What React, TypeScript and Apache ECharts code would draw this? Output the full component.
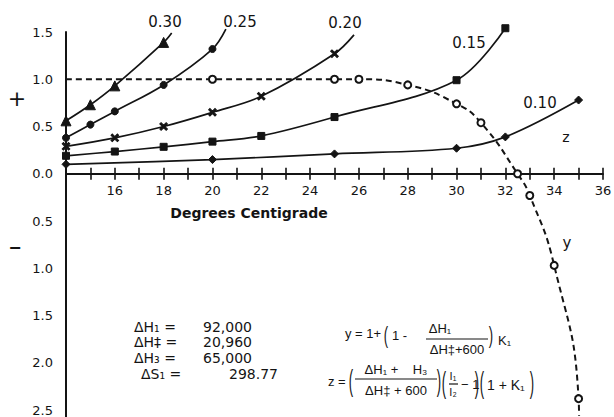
import React, { useEffect, useRef } from 'react';
import * as echarts from 'echarts';

// ---- data ----
const temps030 = [14, 15, 16, 18];
const vals030 = [0.56, 0.73, 0.93, 1.39];
const tail030 = [18.33, 1.49];

const temps025 = [14, 15, 16, 18, 20];
const vals025 = [0.38, 0.52, 0.66, 0.94, 1.32];
const tail025 = [20.55, 1.53];

const temps020 = [14, 16, 18, 20, 22, 25];
const vals020 = [0.29, 0.38, 0.5, 0.65, 0.82, 1.27];
const tail020 = [25.8, 1.47];

const temps015 = [14, 16, 18, 20, 22, 25, 30, 32];
const vals015 = [0.19, 0.235, 0.285, 0.34, 0.4, 0.6, 0.99, 1.54];

const temps010 = [14, 20, 25, 30, 32, 35];
const vals010 = [0.1, 0.15, 0.21, 0.27, 0.39, 0.78];

const tempsY = [20, 25, 26, 28, 30, 31, 32.5, 33, 34, 35];
const valsY = [1.0, 1.0, 1.0, 0.94, 0.74, 0.54, 0.0, -0.23, -0.97, -2.38];
const headY = [14, 1.0];
const tailY = [35.02, -2.56];

const curveNames = ['0.30', '0.25', '0.20', '0.15', '0.10'];
const xLabelValues = [16, 18, 20, 22, 24, 26, 28, 30, 32, 34, 36];

const constNames = ['ΔH₁ =', 'ΔH‡ =', 'ΔH₃ =', 'ΔS₁ ='];
const constValues = ['92,000', '20,960', '65,000', '298.77'];

const X_MIN = 14;
const X_MAX = 36;
const Y_MIN = -2.5;
const Y_MAX = 1.5;

const INK = '#141414';
const FONT = 'DejaVu Sans';
const FFONT = 'Liberation Sans';

const GRID = { left: 66, right: 11, top: 32, bottom: 7 };
const W = 614;
const H = 417;

function pts(xs: number[], ys: number[], head?: number[], tail?: number[]) {
  const d: any[] = xs.map((x, i) => [x, ys[i]]);
  if (head) d.unshift({ value: head, symbol: 'none' });
  if (tail) d.push({ value: tail, symbol: 'none' });
  return d;
}

function lineSeries(name: string, data: any[], symbol: string, size: number, extra: any = {}) {
  return {
    name,
    type: 'line',
    xAxisIndex: 0,
    yAxisIndex: 0,
    data,
    smooth: 0.35,
    clip: false,
    symbol,
    symbolSize: size,
    showSymbol: true,
    showAllSymbol: true,
    lineStyle: { color: INK, width: 1.7 },
    itemStyle: { color: INK, borderColor: INK, borderWidth: 1 },
    emphasis: { disabled: true },
    z: 3,
    ...extra,
  };
}

function txt(text: string, x: number, y: number, size = 13, align = 'left', weight: any = 'normal', family = FONT) {
  return {
    type: 'text',
    x,
    y,
    style: {
      text,
      fill: INK,
      font: `${weight} ${size}px "${family}"`,
      align,
      verticalAlign: 'middle',
    },
    z: 10,
  };
}

function paren(ch: string, x: number, y: number, stretch: number) {
  return {
    type: 'text',
    x,
    y,
    scaleY: stretch,
    style: {
      text: ch,
      fill: INK,
      font: `normal 13px "${FFONT}"`,
      align: 'center',
      verticalAlign: 'middle',
    },
    z: 10,
  };
}

function bar(x1: number, x2: number, y: number) {
  return {
    type: 'line',
    shape: { x1, y1: y, x2, y2: y },
    style: { stroke: INK, lineWidth: 1.2 },
    z: 10,
  };
}

export default function App() {
  const ref = useRef<HTMLDivElement>(null);

  useEffect(() => {
    if (!ref.current) return;
    const chart = echarts.init(ref.current, null, { renderer: 'svg' });

    // distance (px) from the grid's bottom edge up to the value 0 on the y axis
    const plotH = H - GRID.top - GRID.bottom;
    const zeroOffset = -plotH * (0 - Y_MIN) / (Y_MAX - Y_MIN);

    const curveLabelPos = [
      [165, 22],
      [240, 22],
      [345, 23],
      [469, 43],
      [540, 103],
    ];

    const graphic: any[] = [];
    // the vertical axis runs on to the bottom edge of the picture
    graphic.push({
      type: 'line',
      shape: { x1: GRID.left, y1: H - GRID.bottom - 1, x2: GRID.left, y2: H },
      style: { stroke: INK, lineWidth: 2 },
      z: 5,
    });
    curveNames.forEach((n, i) => graphic.push(txt(n, curveLabelPos[i][0], curveLabelPos[i][1], 15, 'center')));
    graphic.push(txt('z', 566, 137, 14, 'center'));
    graphic.push(txt('y', 567, 243, 15, 'center'));
    graphic.push(txt('+', 17, 98, 22, 'center'));
    graphic.push(txt('−', 15, 247, 16, 'center', 'bold'));
    graphic.push(txt('Degrees Centigrade', 249, 213, 14, 'center', 'bold'));

    const rowY = [327, 342, 358, 374];
    constNames.forEach((n, i) => {
      graphic.push(txt(n, i === 3 ? 141 : 134, rowY[i], 14, 'left'));
      graphic.push(txt(constValues[i], i === 3 ? 229 : 203, rowY[i], 14, 'left'));
    });

    // formula for y
    graphic.push(txt('y = 1+', 345, 333, 13, 'left', 'normal', FFONT));
    graphic.push(paren('(', 386, 335, 1.8));
    graphic.push(txt('1 -', 392, 335, 13, 'left', 'normal', FFONT));
    graphic.push(txt('ΔH₁', 440, 328, 13, 'center', 'normal', FFONT));
    graphic.push(bar(426, 488, 339));
    graphic.push(txt('ΔH‡+600', 457, 349, 13, 'center', 'normal', FFONT));
    graphic.push(paren(')', 491, 335, 1.8));
    graphic.push(txt('K₁', 498, 340, 13, 'left', 'normal', FFONT));

    // formula for z
    graphic.push(txt('z =', 328, 381, 13, 'left', 'normal', FFONT));
    graphic.push(paren('(', 351, 381, 2.3));
    graphic.push(txt('ΔH₁ +    H₃', 396, 369, 13, 'center', 'normal', FFONT));
    graphic.push(bar(355, 437, 379));
    graphic.push(txt('ΔH‡ + 600', 396, 390, 13, 'center', 'normal', FFONT));
    graphic.push(paren(')', 439, 381, 2.3));
    graphic.push(paren('(', 444, 383, 2.3));
    graphic.push(txt('I₁', 453, 376, 11, 'center', 'normal', FFONT));
    graphic.push(bar(449, 458, 384));
    graphic.push(txt('I₂', 453, 392, 11, 'center', 'normal', FFONT));
    graphic.push(txt('− 1', 461, 384, 13, 'left', 'normal', FFONT));
    graphic.push(paren(')', 477, 383, 2.3));
    graphic.push(paren('(', 482, 383, 2.3));
    graphic.push(txt('1 + K₁', 487, 385, 14, 'left', 'normal', FFONT));
    graphic.push(paren(')', 532, 383, 2.3));

    const xAxisBase = {
      type: 'value',
      min: X_MIN,
      max: X_MAX,
      interval: 1,
      position: 'bottom',
      offset: zeroOffset,
      splitLine: { show: false },
    };

    chart.setOption({
      animation: false,
      backgroundColor: '#ffffff',
      textStyle: { fontFamily: FONT, color: INK },
      grid: { ...GRID, containLabel: false, outerBoundsMode: 'none' },
      xAxis: [
        {
          ...xAxisBase,
          axisLine: { show: true, onZero: false, lineStyle: { color: INK, width: 2 } },
          axisTick: { show: true, inside: false, length: 6, lineStyle: { color: INK, width: 1.6 } },
          axisLabel: {
            show: true,
            margin: 10,
            fontSize: 13,
            color: INK,
            fontFamily: FONT,
            showMaxLabel: true,
            formatter: (v: number) => (xLabelValues.indexOf(v) >= 0 ? String(v) : ''),
          },
        },
        {
          ...xAxisBase,
          axisLine: { show: false, onZero: false },
          axisTick: { show: true, inside: true, length: 6, lineStyle: { color: INK, width: 1.6 } },
          axisLabel: { show: false },
        },
      ],
      yAxis: {
        type: 'value',
        min: Y_MIN,
        max: Y_MAX,
        interval: 0.5,
        axisLine: { show: true, onZero: false, lineStyle: { color: INK, width: 2 } },
        axisTick: { show: false },
        splitLine: { show: false },
        axisLabel: {
          margin: 13,
          fontSize: 13,
          color: INK,
          fontFamily: FONT,
          formatter: (v: number) => Math.abs(v).toFixed(1),
        },
      },
      graphic,
      series: [
        lineSeries('0.30', pts(temps030, vals030, undefined, tail030), 'triangle', 10),
        lineSeries('0.25', pts(temps025, vals025, undefined, tail025), 'circle', 7),
        lineSeries('0.20', pts(temps020, vals020, undefined, tail020),
          'path://M4,0H6V4H10V6H6V10H4V6H0V4H4Z', 9, { symbolRotate: 45 }),
        lineSeries('0.15', pts(temps015, vals015), 'rect', 7),
        lineSeries('0.10', pts(temps010, vals010), 'diamond', 8),
        lineSeries('y', pts(tempsY, valsY, headY, tailY), 'emptyCircle', 7, {
          smooth: 0.5,
          lineStyle: { color: INK, width: 2, type: [6, 4] },
          itemStyle: { color: INK, borderColor: INK, borderWidth: 1.6 },
          z: 4,
        }),
      ],
    });

    return () => chart.dispose();
  }, []);

  return (
    <div
      ref={ref}
      style={{ position: 'fixed', left: 0, top: 0, width: W, height: H, background: '#fff' }}
    />
  );
}
